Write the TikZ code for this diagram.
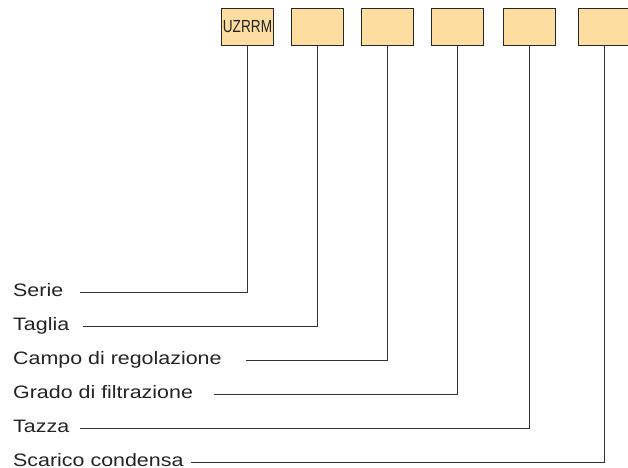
\documentclass[tikz,border=0pt]{standalone}
\usepackage{fontspec}
\setmainfont{Liberation Sans}
\newfontfamily\labfont[FakeStretch=1.19]{Liberation Sans}
\newfontfamily\boxfont[FakeStretch=0.78]{Liberation Sans}
\definecolor{boxfill}{RGB}{254,222,160}
\definecolor{txt}{RGB}{35,35,35}
\tikzset{
  codebox/.style={draw=black!85, line width=1bp, fill=boxfill, minimum width=52bp, minimum height=37bp, inner sep=0pt, anchor=north west},
  lab/.style={anchor=base west, inner sep=0pt, text=txt, font=\labfont\fontsize{18bp}{20bp}\selectfont},
  leader/.style={draw=black!80, line width=0.9bp}
}
\begin{document}
\begin{tikzpicture}[x=1bp,y=-1bp]
\useasboundingbox (0,0) rectangle (628,468);
% code boxes
\node[codebox, text=txt, font=\boxfont\fontsize{17.5bp}{20bp}\selectfont] (b1) at (221,8) {UZRRM};
\node[codebox] (b2) at (291,8) {};
\node[codebox] (b3) at (361,8) {};
\node[codebox] (b4) at (431,8) {};
\node[codebox] (b5) at (503,8) {};
\node[codebox] (b6) at (578,8) {};
% labels
\node[lab] (l1) at (13,296.5) {Serie};
\node[lab] (l2) at (13,330.5) {Taglia};
\node[lab] (l3) at (13,364.5) {Campo di regolazione};
\node[lab] (l4) at (13,398.5) {Grado di filtrazione};
\node[lab] (l5) at (13,432.5) {Tazza};
\node[lab] (l6) at (13,466) {Scarico condensa};
% leader line ends
\coordinate (s1) at (80,292.5);
\coordinate (s2) at (83,326.5);
\coordinate (s3) at (246,360.5);
\coordinate (s4) at (214,394.5);
\coordinate (s5) at (80,428.5);
\coordinate (s6) at (191,462.5);
% leaders
\draw[leader] (b1.south) |- (s1);
\draw[leader] (b2.south) |- (s2);
\draw[leader] (b3.south) |- (s3);
\draw[leader] (b4.south) |- (s4);
\draw[leader] (b5.south) |- (s5);
\draw[leader] (b6.south) |- (s6);
\end{tikzpicture}
\end{document}
